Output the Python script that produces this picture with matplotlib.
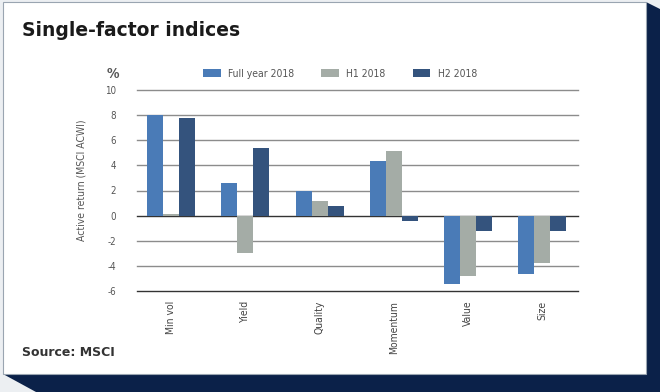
import numpy as np
import matplotlib
matplotlib.use('Agg')
import matplotlib.pyplot as plt
from matplotlib.patches import Polygon, Rectangle
from matplotlib import font_manager

# data
categories = ['Min vol', 'Yield', 'Quality', 'Momentum', 'Value', 'Size']
full_year = [8.0, 2.6, 2.0, 4.35, -5.45, -4.65]
h1 = [0.1, -2.95, 1.2, 5.15, -4.8, -3.8]
h2 = [7.8, 5.35, 0.75, -0.45, -1.2, -1.2]
series_names = ['Full year 2018', 'H1 2018', 'H2 2018']
yticks = [-6, -4, -2, 0, 2, 4, 6, 8, 10]

colors = ['#4a7bb7', '#a4aca6', '#34537d']
navy = '#0b2149'

# condensed DejaVu face for the small chart text
narrow = font_manager.FontProperties(family='DejaVu Sans', stretch='condensed', size=7.5)

W, H = 660, 392
fig = plt.figure(figsize=(W/100, H/100), dpi=100, facecolor='#eceff2')

def px(x, y):
    return (x/W, 1 - y/H)

# navy shadow behind the card
shadow = Polygon([px(646, 2), px(660, 9), px(660, 392), px(36, 392), px(3, 374)],
                 closed=True, transform=fig.transFigure, facecolor=navy, edgecolor='none',
                 zorder=-3)
fig.patches.append(shadow)
card = Rectangle(px(3, 374), 643/W, 372/H, transform=fig.transFigure,
                 facecolor='white', edgecolor='#9aa5b1', linewidth=0.8, zorder=-2)
fig.patches.append(card)

ax = fig.add_axes([137/W, 1 - 291/H, 441/W, 201/H])
ax.set_facecolor('none')

x = np.arange(len(categories))
bw = 0.215
for i, vals in enumerate([full_year, h1, h2]):
    ax.bar(x + (i - 1)*bw, vals, bw, color=colors[i], label=series_names[i], zorder=3)

ax.set_ylim(-6, 10)
ax.set_xlim(-0.46, 5.48)
for t in yticks:
    c = '#333333' if t in (0, -6) else '#8c8c8c'
    ax.axhline(t, color=c, linewidth=1.0, zorder=1, clip_on=False)
for s in ax.spines.values():
    s.set_visible(False)

ax.set_yticks(yticks)
ax.set_yticklabels([str(t) for t in yticks], fontproperties=narrow, fontsize=7, color='#555555')
ax.tick_params(axis='y', length=0, pad=15)
ax.set_xticks(x)
ax.set_xticklabels(categories, rotation=90, fontproperties=narrow, color='#444444',
                   va='top', ha='center')
ax.tick_params(axis='x', length=0, pad=7)

ax.set_ylabel('Active return (MSCI ACWI)', fontproperties=narrow, color='#555555')
ax.yaxis.set_label_coords(-0.115, 0.55)

fig.text(119/W, 1 - 74/H, '%', ha='right', va='center', fontsize=10, fontweight='bold',
         color='#555555', family='DejaVu Sans', stretch='condensed')

leg = ax.legend(ncol=3, loc='center', bbox_to_anchor=(0.46, 1.08), frameon=False,
                prop=narrow, handlelength=1.7, handleheight=0.8,
                columnspacing=2.6, handletextpad=0.7)
for t in leg.get_texts():
    t.set_color('#555555')

fig.text(22/W, 1 - 30/H, 'Single-factor indices', ha='left', va='center', fontsize=13.5,
         fontweight='bold', color='#1a1a1a')
fig.text(22/W, 1 - 352/H, 'Source: MSCI', ha='left', va='center', fontsize=9,
         fontweight='bold', color='#333333')

fig.savefig('out.png', dpi=100, facecolor=fig.get_facecolor())
